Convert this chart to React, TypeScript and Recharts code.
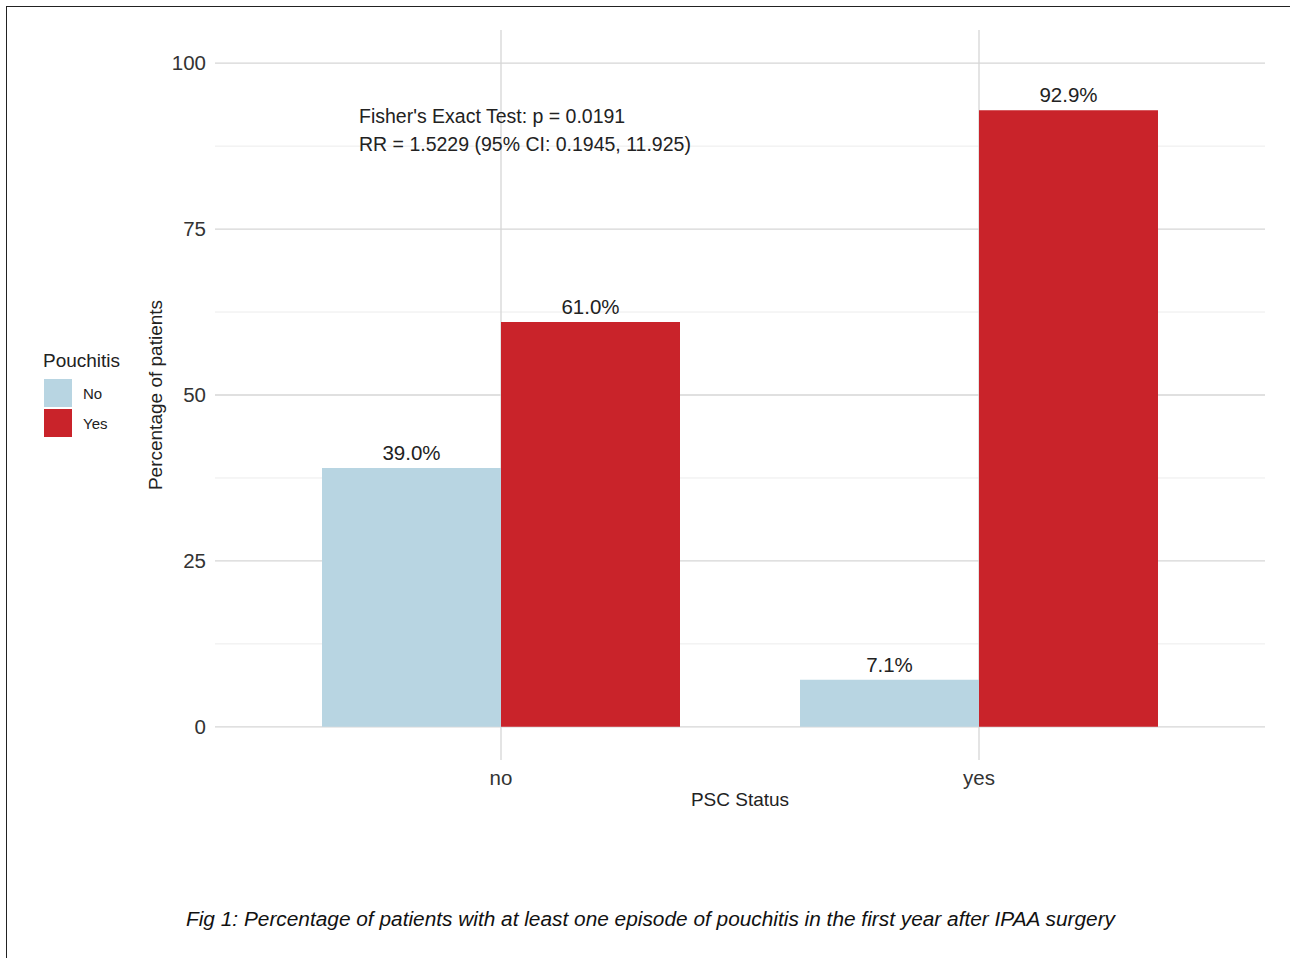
import React from "react";
import {
  BarChart,
  Bar,
  XAxis,
  YAxis,
  CartesianGrid,
  LabelList,
  Label,
} from "recharts";

// PSC status groups on the x axis
const pscStatus = ["no", "yes"];
// percentage of patients without / with pouchitis
const pouchitisNo = [39.0, 7.1];
const pouchitisYes = [61.0, 92.9];

const yTicks = [0, 25, 50, 75, 100];
const yMinorTicks = [12.5, 37.5, 62.5, 87.5];

const legendItems = [
  { label: "No", color: "#b8d5e2" },
  { label: "Yes", color: "#c9232a" },
];

const statLines = [
  "Fisher's Exact Test: p = 0.0191",
  "RR = 1.5229 (95% CI: 0.1945, 11.925)",
];

const caption =
  "Fig 1: Percentage of patients with at least one episode of pouchitis in the first year after IPAA surgery";

const FONT = '"Liberation Sans", Arial, Helvetica, sans-serif';

const chartData = pscStatus.map((s, i) => ({
  psc: s,
  no: pouchitisNo[i],
  yes: pouchitisYes[i],
}));

const X_PAD = 47;

// vertical grid at the center of each category band
const verticalGen = ({ offset }: any) => {
  const inner = offset.width - 2 * X_PAD;
  const band = inner / pscStatus.length;
  return pscStatus.map((_, i) => offset.left + X_PAD + band * (i + 0.5));
};

const pctLabel = (v: any) => `${Number(v).toFixed(1)}%`;

const YTitle = ({ viewBox }: any) => {
  const cx = viewBox.x + 7;
  const cy = viewBox.y + viewBox.height / 2;
  return (
    <text
      x={cx}
      y={cy}
      transform={`rotate(-90 ${cx} ${cy})`}
      textAnchor="middle"
      fontSize={19}
      fill="#222"
      fontFamily={FONT}
    >
      Percentage of patients
    </text>
  );
};

export default function App() {
  return (
    <div
      style={{
        position: "absolute",
        left: 0,
        top: 0,
        width: 1290,
        height: 958,
        background: "#fff",
        overflow: "hidden",
        fontFamily: FONT,
      }}
    >
      {/* figure frame */}
      <div
        style={{
          position: "absolute",
          left: 6,
          top: 6,
          width: 1300,
          height: 1000,
          borderTop: "1.5px solid #222",
          borderLeft: "1.5px solid #222",
        }}
      />

      <BarChart
        width={1290}
        height={958}
        data={chartData}
        margin={{ top: 30, right: 25, left: 155, bottom: 148 }}
        barCategoryGap={60}
        barGap={0}
      >
        <CartesianGrid
          horizontalValues={yMinorTicks}
          vertical={false}
          stroke="#ececec"
          strokeWidth={1}
        />
        <CartesianGrid
          horizontalValues={yTicks}
          verticalCoordinatesGenerator={verticalGen}
          stroke="#d6d6d6"
          strokeWidth={1.3}
        />
        <XAxis
          dataKey="psc"
          padding={{ left: X_PAD, right: X_PAD }}
          tickLine={false}
          axisLine={false}
          tickSize={0}
          tickMargin={10}
          height={50}
          tick={{ fontSize: 20.5, fill: "#333", fontFamily: FONT }}
        >
          <Label
            value="PSC Status"
            position="insideBottom"
            offset={4}
            style={{ fontSize: 19, fill: "#222", fontFamily: FONT }}
          />
        </XAxis>
        <YAxis
          domain={[-5, 105]}
          ticks={yTicks}
          width={60}
          tickLine={false}
          axisLine={false}
          tickSize={0}
          tickMargin={9}
          tick={{ fontSize: 20.5, fill: "#333", fontFamily: FONT }}
          label={<YTitle />}
        />
        <Bar dataKey="no" fill={legendItems[0].color} isAnimationActive={false}>
          <LabelList
            dataKey="no"
            position="top"
            offset={8}
            formatter={pctLabel}
            style={{ fontSize: 20.5, fill: "#222", fontFamily: FONT }}
          />
        </Bar>
        <Bar dataKey="yes" fill={legendItems[1].color} isAnimationActive={false}>
          <LabelList
            dataKey="yes"
            position="top"
            offset={8}
            formatter={pctLabel}
            style={{ fontSize: 20.5, fill: "#222", fontFamily: FONT }}
          />
        </Bar>
      </BarChart>

      {/* statistics annotation */}
      <div
        style={{
          position: "absolute",
          left: 359,
          top: 102,
          fontSize: 19.5,
          lineHeight: "28px",
          color: "#222",
          whiteSpace: "nowrap",
        }}
      >
        {statLines.map((l) => (
          <div key={l}>{l}</div>
        ))}
      </div>

      {/* legend */}
      <div style={{ position: "absolute", left: 43, top: 350 }}>
        <div style={{ fontSize: 19, color: "#222", marginBottom: 6 }}>
          Pouchitis
        </div>
        {legendItems.map((it) => (
          <div
            key={it.label}
            style={{ display: "flex", alignItems: "center", height: 30 }}
          >
            <div
              style={{
                width: 28,
                height: 28,
                background: it.color,
                marginLeft: 1,
              }}
            />
            <span style={{ fontSize: 15, color: "#222", marginLeft: 11 }}>
              {it.label}
            </span>
          </div>
        ))}
      </div>

      {/* caption */}
      <svg
        width={1290}
        height={40}
        style={{ position: "absolute", left: 0, top: 900 }}
      >
        <text
          x={186}
          y={26}
          textLength={929}
          lengthAdjust="spacingAndGlyphs"
          fontSize={19.5}
          fontStyle="italic"
          fill="#111"
          fontFamily={FONT}
        >
          {caption}
        </text>
      </svg>
    </div>
  );
}
